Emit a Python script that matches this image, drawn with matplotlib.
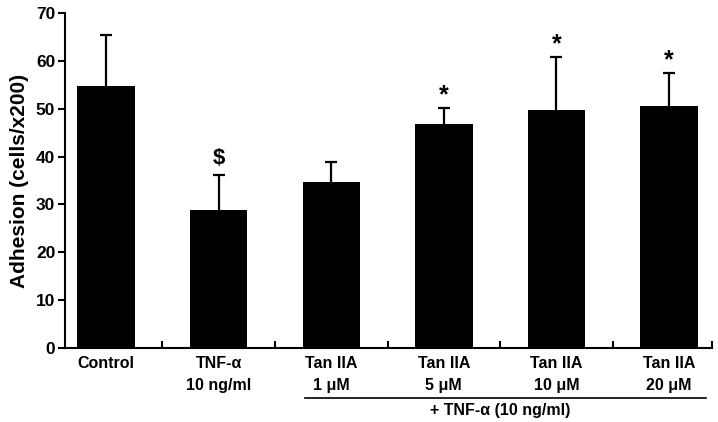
import numpy as np
import matplotlib.pyplot as plt

plt.rcParams['font.family'] = ['Liberation Sans', 'DejaVu Sans']
plt.rcParams['font.weight'] = 'bold'

line1 = ['Control', 'TNF-α', 'Tan IIA', 'Tan IIA', 'Tan IIA', 'Tan IIA']
line2 = ['', '10 ng/ml', '1 μM', '5 μM', '10 μM', '20 μM']
means = [54.8, 28.9, 34.7, 46.8, 49.8, 50.5]
errors = [10.6, 7.3, 4.1, 3.4, 11.0, 7.0]
marks = ['', '$', '', '*', '*', '*']

fig = plt.figure(figsize=(7.18, 4.22), dpi=100)
ax = fig.add_axes([0.0905, 0.1754, 0.901, 0.7936])

x = np.arange(len(means))
ax.bar(x, means, width=0.51, color='black', zorder=2)
# symmetric bars drawn behind the columns, so only the upper half shows
ax.errorbar(x, means, yerr=errors, fmt='none', ecolor='black',
            elinewidth=1.6, capsize=4, capthick=1.6, zorder=1)

for xi, m, e, s in zip(x, means, errors, marks):
    if s == '$':
        ax.text(xi, m + e + 1.3, s, ha='center', va='bottom', fontsize=16,
                fontweight='bold')
    elif s:
        ax.text(xi, m + e + 0.2, s, ha='center', va='bottom', fontsize=18,
                fontweight='bold')

ax.set_xlim(-0.364, 5.38)
ax.set_ylim(0, 70)
ax.set_yticks(np.arange(0, 71, 10))
ax.tick_params(axis='y', direction='out', length=5, width=1.5,
               labelsize=12.5, pad=2)
for lab in ax.get_yticklabels():
    lab.set_fontweight('bold')

bounds = [0.5, 1.5, 2.5, 3.5, 4.5, 5.38]
ax.set_xticks(bounds)
ax.set_xticklabels([])
ax.tick_params(axis='x', direction='in', length=5, width=1.5)

for xi, a, b in zip(x, line1, line2):
    ax.text(xi, -1.6, a, ha='center', va='top', fontsize=11.5,
            fontweight='bold', clip_on=False)
    if b:
        ax.text(xi, -6.2, b, ha='center', va='top', fontsize=11.5,
                fontweight='bold', clip_on=False)

ax.plot([1.77, 5.33], [-10.4, -10.4], color='black', lw=1.2, clip_on=False)
ax.text(3.5, -11.5, '+ TNF-α (10 ng/ml)', ha='center', va='top',
        fontsize=11.5, fontweight='bold', clip_on=False)

ax.set_ylabel('Adhesion (cells/x200)', fontsize=15, fontweight='bold',
              labelpad=5)

for side in ['top', 'right']:
    ax.spines[side].set_visible(False)
for side in ['left', 'bottom']:
    ax.spines[side].set_linewidth(1.5)

fig.savefig('out.png', dpi=100)
